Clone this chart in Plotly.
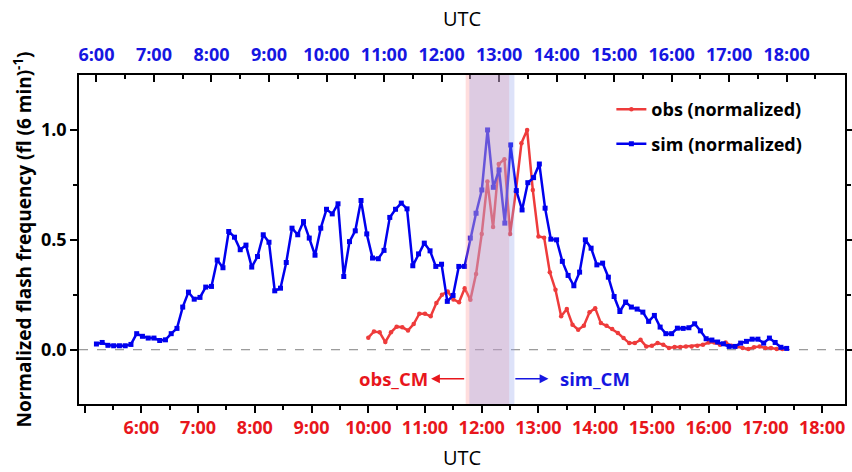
import plotly.graph_objects as go

# ---------------- data ----------------
obs_time = [
    "10:00", "10:06", "10:12", "10:18", "10:24", "10:30", "10:36", "10:42", "10:48", "10:54",
    "11:00", "11:06", "11:12", "11:18", "11:24", "11:30", "11:36", "11:42", "11:48", "11:54",
    "12:00", "12:06", "12:12", "12:18", "12:24", "12:30", "12:36", "12:42", "12:48", "12:54",
    "13:00", "13:06", "13:12", "13:18", "13:24", "13:30", "13:36", "13:42", "13:48", "13:54",
    "14:00", "14:06", "14:12", "14:18", "14:24", "14:30", "14:36", "14:42", "14:48", "14:54",
    "15:00", "15:06", "15:12", "15:18", "15:24", "15:30", "15:36", "15:42", "15:48", "15:54",
    "16:00", "16:06", "16:12", "16:18", "16:24", "16:30", "16:36", "16:42", "16:48", "16:54",
    "17:00", "17:06", "17:12", "17:18",
]
obs_value = [
    0.055, 0.083, 0.079, 0.035, 0.079, 0.105, 0.102, 0.088, 0.117, 0.164,
    0.164, 0.152, 0.212, 0.250, 0.265, 0.229, 0.216, 0.280, 0.227, 0.345,
    0.527, 0.765, 0.558, 0.845, 0.867, 0.526, 0.720, 0.940, 1.000, 0.727,
    0.515, 0.510, 0.353, 0.273, 0.152, 0.185, 0.114, 0.091, 0.109, 0.170,
    0.189, 0.121, 0.109, 0.094, 0.076, 0.053, 0.030, 0.030, 0.045, 0.015,
    0.018, 0.030, 0.023, 0.008, 0.012, 0.012, 0.015, 0.015, 0.018, 0.023,
    0.033, 0.033, 0.023, 0.033, 0.018, 0.015, 0.008, 0.003, 0.011, 0.015,
    0.008, 0.008, 0.003, 0.003,
]
sim_time = [
    "6:00", "6:06", "6:12", "6:18", "6:24", "6:30", "6:36", "6:42", "6:48", "6:54",
    "7:00", "7:06", "7:12", "7:18", "7:24", "7:30", "7:36", "7:42", "7:48", "7:54",
    "8:00", "8:06", "8:12", "8:18", "8:24", "8:30", "8:36", "8:42", "8:48", "8:54",
    "9:00", "9:06", "9:12", "9:18", "9:24", "9:30", "9:36", "9:42", "9:48", "9:54",
    "10:00", "10:06", "10:12", "10:18", "10:24", "10:30", "10:36", "10:42", "10:48", "10:54",
    "11:00", "11:06", "11:12", "11:18", "11:24", "11:30", "11:36", "11:42", "11:48", "11:54",
    "12:00", "12:06", "12:12", "12:18", "12:24", "12:30", "12:36", "12:42", "12:48", "12:54",
    "13:00", "13:06", "13:12", "13:18", "13:24", "13:30", "13:36", "13:42", "13:48", "13:54",
    "14:00", "14:06", "14:12", "14:18", "14:24", "14:30", "14:36", "14:42", "14:48", "14:54",
    "15:00", "15:06", "15:12", "15:18", "15:24", "15:30", "15:36", "15:42", "15:48", "15:54",
    "16:00", "16:06", "16:12", "16:18", "16:24", "16:30", "16:36", "16:42", "16:48", "16:54",
    "17:00", "17:06", "17:12", "17:18", "17:24", "17:30", "17:36", "17:42", "17:48", "17:54",
    "18:00",
]
sim_value = [
    0.026, 0.033, 0.020, 0.018, 0.018, 0.018, 0.024, 0.073, 0.061, 0.053,
    0.053, 0.042, 0.045, 0.073, 0.097, 0.194, 0.262, 0.230, 0.238, 0.285,
    0.288, 0.408, 0.373, 0.538, 0.512, 0.455, 0.476, 0.376, 0.424, 0.523,
    0.489, 0.268, 0.280, 0.397, 0.553, 0.523, 0.583, 0.508, 0.430, 0.553,
    0.639, 0.618, 0.664, 0.333, 0.492, 0.541, 0.679, 0.527, 0.417, 0.414,
    0.452, 0.602, 0.639, 0.667, 0.641, 0.382, 0.436, 0.485, 0.450, 0.379,
    0.389, 0.220, 0.247, 0.379, 0.379, 0.508, 0.621, 0.727, 1.000, 0.739,
    0.818, 0.576, 0.932, 0.724, 0.636, 0.760, 0.783, 0.845, 0.644, 0.503,
    0.500, 0.402, 0.338, 0.291, 0.353, 0.500, 0.462, 0.386, 0.394, 0.330,
    0.242, 0.174, 0.217, 0.194, 0.185, 0.171, 0.129, 0.156, 0.103, 0.073,
    0.073, 0.098, 0.097, 0.100, 0.118, 0.086, 0.050, 0.044, 0.035, 0.027,
    0.015, 0.015, 0.030, 0.038, 0.048, 0.048, 0.030, 0.053, 0.033, 0.011,
    0.006,
]
hour_labels = ["6:00", "7:00", "8:00", "9:00", "10:00", "11:00", "12:00",
               "13:00", "14:00", "15:00", "16:00", "17:00", "18:00"]
obs_cm_window = ("11:43", "12:29")   # bottom (obs) time axis
sim_cm_window = ("12:29", "13:16")   # top (sim) time axis
y_ticks = [0.0, 0.5, 1.0]

# ---------------- helpers ----------------
def hrs(s):
    h, m = s.split(":")
    return int(h) + int(m) / 60.0

RED = "#EE3B3B"
BLUE = "#0000EE"
RED_TXT = "rgb(232,22,28)"
BLUE_TXT = "rgb(22,22,225)"
FONT = "Open Sans"

obs_x = [hrs(t) for t in obs_time]
sim_x = [hrs(t) for t in sim_time]
major = [hrs(t) for t in hour_labels]

fig = go.Figure()
fig.add_trace(go.Scatter(
    x=obs_x, y=obs_value, xaxis="x", yaxis="y", mode="lines+markers",
    name="<b>obs (normalized)</b>", legendgroup="a",
    line=dict(color=RED, width=2.5), marker=dict(symbol="circle", size=4.5, color=RED)))
fig.add_trace(go.Scatter(
    x=sim_x, y=sim_value, xaxis="x2", yaxis="y", mode="lines+markers",
    name="<b>sim (normalized)</b>", legendgroup="b",
    line=dict(color=BLUE, width=2.5), marker=dict(symbol="square", size=5, color=BLUE)))

# zero reference line
fig.add_shape(type="line", xref="paper", yref="y", x0=0, x1=1, y0=0, y1=0,
              line=dict(color="#808080", width=1, dash="dash"), layer="below")
# centre-of-mass windows (drawn above the data, translucent)
fig.add_shape(type="rect", xref="x", yref="paper",
              x0=hrs(obs_cm_window[0]), x1=hrs(obs_cm_window[1]), y0=0, y1=1,
              fillcolor="rgba(255,150,150,0.32)", line=dict(width=0), layer="above")
fig.add_shape(type="rect", xref="x2", yref="paper",
              x0=hrs(sim_cm_window[0]), x1=hrs(sim_cm_window[1]), y0=0, y1=1,
              fillcolor="rgba(150,165,235,0.32)", line=dict(width=0), layer="above")

ya = -0.132
# arrows
obs_l = hrs(obs_cm_window[0])
fig.add_annotation(x=obs_l - 0.61, y=ya, ax=obs_l, ay=ya, xref="x", yref="y",
                   axref="x", ayref="y", text="", showarrow=True, arrowhead=2,
                   arrowsize=1.1, arrowwidth=1.6, arrowcolor=RED_TXT, standoff=0, startstandoff=0)
fig.add_annotation(x=obs_l - 0.63, y=ya, xref="x", yref="y", text="<b>obs_CM</b>",
                   showarrow=False, xanchor="right", yanchor="middle",
                   font=dict(family=FONT, size=18.5, color=RED_TXT))
sim_r_bottom = 12.566
fig.add_annotation(x=sim_r_bottom + 0.61, y=ya, ax=sim_r_bottom, ay=ya, xref="x", yref="y",
                   axref="x", ayref="y", text="", showarrow=True, arrowhead=2,
                   arrowsize=1.1, arrowwidth=1.6, arrowcolor=BLUE_TXT, standoff=0, startstandoff=0)
fig.add_annotation(x=sim_r_bottom + 0.77, y=ya, xref="x", yref="y", text="<b>sim_CM</b>",
                   showarrow=False, xanchor="left", yanchor="middle",
                   font=dict(family=FONT, size=18.5, color=BLUE_TXT))

# axis titles "UTC"
fig.add_annotation(x=0.5, y=1.173, xref="paper", yref="paper", text="UTC", showarrow=False,
                   xanchor="center", yanchor="middle", font=dict(family=FONT, size=20, color="black"))
fig.add_annotation(x=0.5, y=-0.163, xref="paper", yref="paper", text="UTC", showarrow=False,
                   xanchor="center", yanchor="middle", font=dict(family=FONT, size=20, color="black"))

fig.update_layout(
    width=852, height=472,
    margin=dict(l=79, r=7, t=75, b=68, autoexpand=False),
    paper_bgcolor="white", plot_bgcolor="white",
    font=dict(family=FONT, color="black"),
    showlegend=True,
    legend=dict(x=0.695, y=0.951, xanchor="left", yanchor="top",
                bgcolor="rgba(0,0,0,0)", tracegroupgap=8,
                font=dict(family=FONT, size=18, color="black")),
    xaxis=dict(
        range=[4.9, 18.404], showgrid=False, zeroline=False, automargin=False,
        showline=True, linecolor="black", linewidth=1.5,
        tickmode="array", tickvals=[5.0] + major, ticktext=[""] + hour_labels,
        ticks="outside", ticklen=7, tickwidth=1.5, tickcolor="black",
        tickfont=dict(family=FONT, size=18, color=RED_TXT, weight="bold"),
        ticklabelstandoff=0,
        minor=dict(tickmode="array", tickvals=[v + 0.5 for v in [5.0] + major[:-1]],
                   ticks="outside", ticklen=4, tickwidth=1.5, tickcolor="black", showgrid=False),
    ),
    xaxis2=dict(
        range=[5.697, 19.014], overlaying="x", side="top", anchor="y",
        showgrid=False, zeroline=False, automargin=False,
        showline=True, linecolor="black", linewidth=1.5,
        tickmode="array", tickvals=major, ticktext=hour_labels,
        ticks="inside", ticklen=7, tickwidth=1.5, tickcolor="black",
        tickfont=dict(family=FONT, size=18, color=BLUE_TXT, weight="bold"),
        ticklabelstandoff=5,
        minor=dict(tickmode="array", tickvals=[v + 0.5 for v in major],
                   ticks="inside", ticklen=4, tickwidth=1.5, tickcolor="black", showgrid=False),
    ),
    yaxis=dict(
        range=[-0.247, 1.25], showgrid=False, zeroline=False,
        showline=True, linecolor="black", linewidth=1.5, mirror="ticks",
        tickmode="array", tickvals=y_ticks, ticktext=["0.0", "0.5", "1.0"],
        ticks="outside", ticklen=7, tickwidth=1.5, tickcolor="black",
        tickfont=dict(family=FONT, size=18, color="black", weight="bold"),
        minor=dict(tickmode="array", tickvals=[0.25, 0.75], ticks="outside",
                   ticklen=4, tickwidth=1.5, tickcolor="black", showgrid=False),
        title=dict(text="<b>Normalized flash frequency (fl (6 min)<sup>-1</sup>)</b>",
                   font=dict(family=FONT, size=19, color="black"), standoff=4),
        automargin=False,
    ),
)

fig.write_html("out.html",
               config={"displayModeBar": False},
               post_script="document.body.style.margin='0px';document.body.style.padding='0px';")
